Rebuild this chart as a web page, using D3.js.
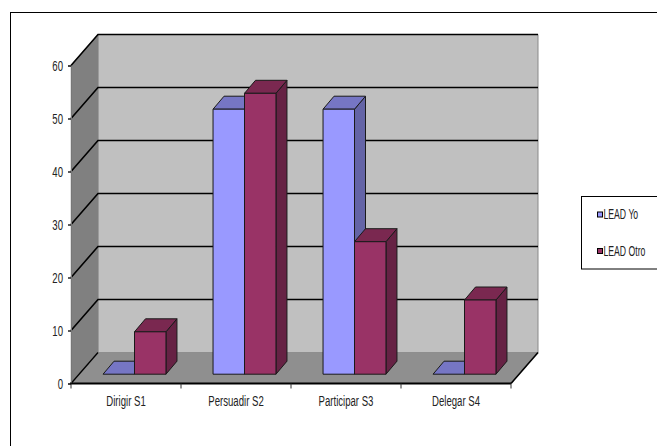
<!DOCTYPE html>
<html>
<head>
<meta charset="utf-8">
<script src="https://cdn.jsdelivr.net/npm/d3@7"></script>
<style>
html,body{margin:0;padding:0;background:#fff;overflow:hidden}
svg{display:block}
text{font-family:"Liberation Sans",Arial,sans-serif;fill:#222}
</style>
</head>
<body>
<svg id="chart" width="657" height="446"></svg>
<script>
const categories = ["Dirigir S1", "Persuadir S2", "Participar S3", "Delegar S4"];
const seriesNames = ["LEAD Yo", "LEAD Otro"];
const leadYo = [0, 50, 50, 0];
const leadOtro = [8, 53, 25, 14];
const yTicks = [0, 10, 20, 30, 40, 50, 60];

const seriesStyles = [
  {front: "#9999ff", top: "#7676c4", side: "#6464a6"},
  {front: "#993366", top: "#7a2850", side: "#662244"}
];
const seriesValues = [leadYo, leadOtro];

const svg = d3.select("#chart");
const squeeze = 0.64;
const fontSize = 15;
const legendSqueeze = 0.62;
const legendFontSize = 14;

// Front plane of the 3D box
const x = d3.scaleBand().domain(categories).range([71, 511]);
const y = d3.scaleLinear().domain([0, 60]).range([383.5, 65.5]);
const depthX = 27, depthY = -31;

// Offsets of the bar prisms inside the box
const barInsetX = 8.5, barInsetY = -9.3, barDepthX = 11, barDepthY = -13;
const groupMargin = 0.214;
const inner = d3.scaleBand().domain(d3.range(seriesNames.length))
  .range([0, x.bandwidth() * (1 - 2 * groupMargin)]);

const pts = a => a.map(p => p.join(",")).join(" ");

// Outer chart frame, running past the right and lower edges
svg.append("rect").attr("x", 10.5).attr("y", 12.5).attr("width", 700).attr("height", 500)
  .attr("fill", "#fff").attr("stroke", "#000").attr("stroke-width", 1);

const [x0, x1] = x.range();
const yBase = y(0), yTop = y(60);

// Walls and floor
svg.append("polygon").attr("fill", "#c0c0c0").attr("stroke", "#8a8a8a").attr("stroke-width", 1)
  .attr("points", pts([[x0 + depthX, yTop + depthY], [x1 + depthX, yTop + depthY], [x1 + depthX, yBase + depthY], [x0 + depthX, yBase + depthY]]));
svg.append("polygon").attr("fill", "#808080").attr("stroke", "#808080").attr("stroke-width", 0.5)
  .attr("points", pts([[x0, yTop], [x0 + depthX, yTop + depthY], [x0 + depthX, yBase + depthY], [x0, yBase]]));
svg.append("polygon").attr("fill", "#8f8f8f").attr("stroke", "#8f8f8f").attr("stroke-width", 0.5)
  .attr("points", pts([[x0, yBase], [x0 + depthX, yBase + depthY], [x1 + depthX, yBase + depthY], [x1, yBase]]));

// Gridlines across the side and back walls
const gridValues = yTicks.filter(d => d > 0);
svg.append("g").selectAll("polyline").data(gridValues).join("polyline")
  .attr("fill", "none").attr("stroke", "#000").attr("stroke-width", 1.6)
  .attr("points", d => pts([[x0, y(d)], [x0 + depthX, y(d) + depthY], [x1 + depthX, y(d) + depthY]]));
svg.append("line").attr("x1", x0).attr("y1", yBase).attr("x2", x0 + depthX).attr("y2", yBase + depthY)
  .attr("stroke", "#000").attr("stroke-width", 1.3);
svg.append("line").attr("x1", x1).attr("y1", yBase).attr("x2", x1 + depthX).attr("y2", yBase + depthY)
  .attr("stroke", "#000").attr("stroke-width", 1.6);

// Bars, drawn category by category so each prism overlaps the one behind it
const bars = svg.append("g");
categories.forEach((cat, c) => {
  seriesValues.forEach((values, s) => {
    const v = values[c], st = seriesStyles[s];
    const left = x(cat) + x.bandwidth() * groupMargin + inner(s) + barInsetX;
    const right = left + inner.bandwidth();
    const bottom = y(0) + barInsetY;
    const top = y(v) + barInsetY;
    const g = bars.append("g").attr("stroke", "#1a1a1a").attr("stroke-width", 1).attr("stroke-linejoin", "round");
    g.append("polygon").attr("fill", st.side)
      .attr("points", pts([[right, top], [right + barDepthX, top + barDepthY], [right + barDepthX, bottom + barDepthY], [right, bottom]]));
    g.append("polygon").attr("fill", st.top)
      .attr("points", pts([[left, top], [left + barDepthX, top + barDepthY], [right + barDepthX, top + barDepthY], [right, top]]));
    if (v > 0) {
      g.append("rect").attr("x", left).attr("y", top).attr("width", right - left).attr("height", bottom - top)
        .attr("fill", st.front);
    }
  });
});

// Value axis
const yAxis = svg.append("g").attr("transform", `translate(${x0},0)`)
  .call(d3.axisLeft(y).tickValues(yTicks).tickSize(3));
yAxis.select(".domain").attr("stroke", "#777").attr("stroke-width", 1);
yAxis.selectAll(".tick line").attr("stroke", "#000").attr("stroke-width", 1.3);
yAxis.selectAll(".tick text")
  .attr("font-size", fontSize).attr("fill", "#222")
  .attr("x", -8 / squeeze).attr("dy", "0.3em")
  .attr("transform", `scale(${squeeze},1)`);

// Category axis
const xAxis = svg.append("g").attr("transform", `translate(0,${yBase})`)
  .call(d3.axisBottom(x).tickSize(0).tickPadding(0));
xAxis.select(".domain").remove();
xAxis.selectAll(".tick text")
  .attr("font-size", fontSize).attr("fill", "#222")
  .attr("y", 17.5).attr("dy", "0.35em")
  .attr("transform", `scale(${squeeze},1)`)
  .attr("x", 0);
svg.append("line").attr("x1", x0 - 1).attr("x2", x1).attr("y1", yBase).attr("y2", yBase)
  .attr("stroke", "#000").attr("stroke-width", 1.8);
svg.append("g").selectAll("line").data(d3.range(categories.length + 1)).join("line")
  .attr("x1", i => x0 + i * x.step()).attr("x2", i => x0 + i * x.step())
  .attr("y1", yBase).attr("y2", yBase + 5)
  .attr("stroke", "#333").attr("stroke-width", 1);

// Legend box, clipped by the right edge
const legend = svg.append("g");
legend.append("rect").attr("x", 581.5).attr("y", 196.5).attr("width", 100).attr("height", 72.5)
  .attr("fill", "#fff").attr("stroke", "#000").attr("stroke-width", 1);
const legendY = d3.scalePoint().domain(seriesNames).range([214.5, 251]);
seriesNames.forEach((name, i) => {
  legend.append("rect").attr("x", 597.5).attr("y", legendY(name) - 2.5).attr("width", 5).attr("height", 5)
    .attr("fill", seriesStyles[i].front).attr("stroke", "#000").attr("stroke-width", 1);
  legend.append("text").text(name)
    .attr("font-size", legendFontSize).attr("dy", "0.35em")
    .attr("x", 603.5 / legendSqueeze).attr("y", legendY(name))
    .attr("transform", `scale(${legendSqueeze},1)`);
});
</script>
</body>
</html>
